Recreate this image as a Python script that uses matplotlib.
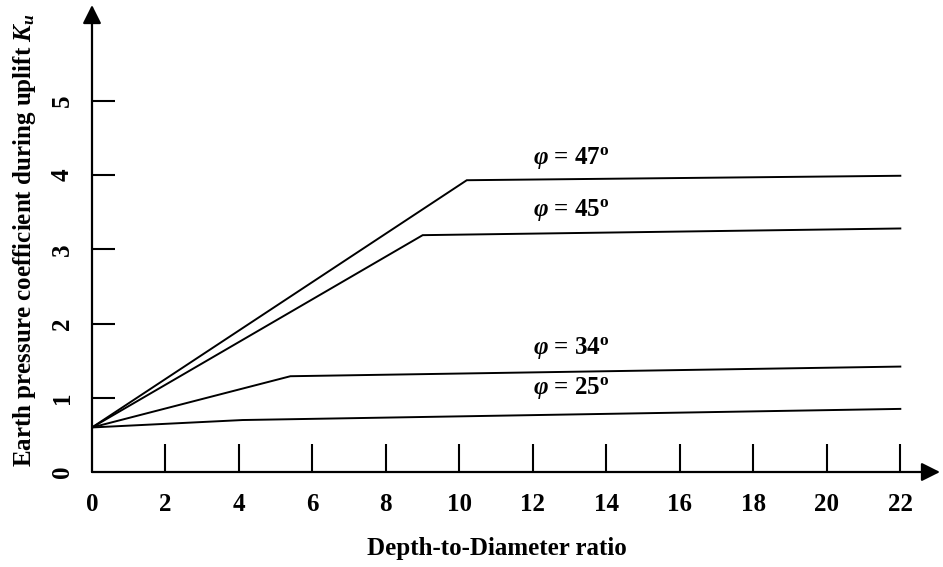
import matplotlib
matplotlib.use("Agg")
import matplotlib.pyplot as plt

# fonts: bold Times-like serif everywhere, including the math parts
plt.rcParams['font.family'] = 'Liberation Serif'
plt.rcParams['font.weight'] = 'bold'
plt.rcParams['mathtext.fontset'] = 'custom'
plt.rcParams['mathtext.rm'] = 'Liberation Serif:bold'
plt.rcParams['mathtext.it'] = 'Liberation Serif:italic:bold'
plt.rcParams['mathtext.bf'] = 'Liberation Serif:bold'

# ---- data: bilinear K_u curves, one per friction angle ----
phi_angles = [47, 45, 34, 25]
x_break = [10.2, 9.0, 5.4, 4.1]
ku_start = [0.6, 0.6, 0.6, 0.6]
ku_break = [3.93, 3.19, 1.29, 0.70]
ku_end = [3.99, 3.28, 1.42, 0.85]
x_end = 22
label_y = [4.23, 3.53, 1.67, 1.13]

xticks = [0, 2, 4, 6, 8, 10, 12, 14, 16, 18, 20, 22]
yticks = [0, 1, 2, 3, 4, 5]

fig = plt.figure(figsize=(9.43, 5.67), dpi=100)
ax = fig.add_axes([92 / 943, 95 / 567, (940 - 92) / 943, (472 - 5) / 567])
ax.set_xlim(0, 23.08)
ax.set_ylim(0, 6.29)

for phi, xb, k0, kb, ke, ly in zip(phi_angles, x_break, ku_start, ku_break, ku_end, label_y):
    ax.plot([0, xb, x_end], [k0, kb, ke], color='black', lw=1.4, solid_joinstyle='miter')
    ax.text(12.0, ly, r'$\varphi$ = %d$^{\mathrm{o}}$' % phi, fontsize=18,
            ha='left', va='center')

# axes drawn as arrows
for s in ['top', 'right', 'left', 'bottom']:
    ax.spines[s].set_visible(False)
ax.annotate('', xy=(23.08, 0), xytext=(0, 0), xycoords='data',
            arrowprops=dict(arrowstyle='-|>', color='black', lw=1.6,
                            mutation_scale=28, shrinkA=0, shrinkB=0),
            annotation_clip=False)
ax.annotate('', xy=(0, 6.29), xytext=(0, 0), xycoords='data',
            arrowprops=dict(arrowstyle='-|>', color='black', lw=1.6,
                            mutation_scale=28, shrinkA=0, shrinkB=0),
            annotation_clip=False)

ax.set_xticks(xticks)
ax.set_xticklabels([str(t) for t in xticks], fontsize=18, fontweight='bold')
ax.set_yticks(yticks)
ax.set_yticklabels([str(t) for t in yticks], fontsize=18, fontweight='bold',
                   rotation=90, va='center')
ax.tick_params(axis='x', direction='in', length=20, width=1.5, pad=15)
ax.tick_params(axis='y', direction='in', length=16.5, width=1.5, pad=13)
ax.xaxis.get_major_ticks()[0].tick1line.set_visible(False)
ax.yaxis.get_major_ticks()[0].tick1line.set_visible(False)

fig.text(497 / 943, 1 - 549 / 567, 'Depth-to-Diameter ratio', fontsize=18,
         fontweight='bold', ha='center', va='center')
fig.text(25 / 943, 1 - 240 / 567, r'Earth pressure coefficient during uplift $K_u$',
         fontsize=18, fontweight='bold', rotation=90, ha='center', va='center')

fig.savefig('out.png', dpi=100)
